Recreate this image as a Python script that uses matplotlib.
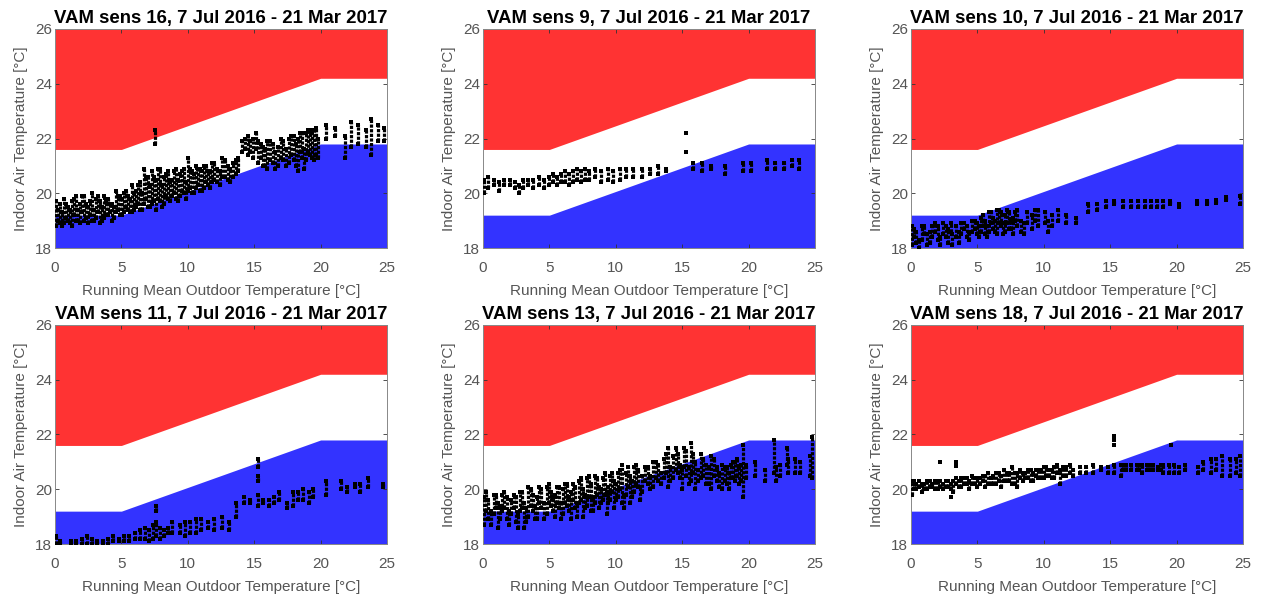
import matplotlib
matplotlib.use("Agg")
import matplotlib.pyplot as plt

plt.rcParams['font.family'] = ['Liberation Sans', 'DejaVu Sans']

# Comfort band (running-mean outdoor temperature vs indoor limits)
band_x = [0, 5, 20, 25]
band_upper = [21.6, 21.6, 24.2, 24.2]
band_lower = [19.2, 19.2, 21.8, 21.8]

period = "7 Jul 2016 - 21 Mar 2017"
sensors = [16, 9, 10, 11, 13, 18]

# Each sensor: daily running mean (x) with the span of hourly indoor readings (lo..hi)
s16_x = [0.1, 0.4, 0.7, 1.0, 1.3, 1.6, 1.9, 2.2, 2.5, 2.8, 3.1, 3.4, 3.7, 4.0, 4.3, 4.6, 4.9,
         5.2, 5.5, 5.8, 6.1, 6.4, 6.7, 7.0, 7.3, 7.55, 7.6, 7.9, 8.2, 8.5, 8.8, 9.1, 9.4, 9.7,
         10.0, 10.3, 10.6, 10.9, 11.2, 11.5, 11.8, 12.2, 12.6, 13.0, 13.4, 13.8, 14.1, 14.5,
         14.9, 15.3, 15.7, 16.0, 16.4, 16.8, 17.2, 17.6, 18.0, 18.3, 18.6, 18.9, 19.2, 19.5,
         19.8, 20.4, 21.1, 21.8, 22.3, 22.8, 23.4, 23.8, 24.8,
         0.25, 0.55, 0.85, 1.15, 1.45, 1.75, 2.05, 2.35, 2.65, 2.95, 3.25, 3.55, 3.85, 4.15,
         4.45, 4.75, 5.05, 5.35, 5.65, 5.95, 6.25, 6.55, 6.85, 7.15, 7.45, 7.75, 8.05, 8.35,
         8.65, 8.95, 9.25, 9.55, 9.85, 10.15, 10.45, 10.75, 11.05, 11.35, 11.65, 12.0, 12.4,
         12.8, 13.2, 13.6, 14.3, 14.7, 15.1, 15.5, 15.85, 16.2, 16.6, 17.0, 17.4, 17.8, 18.15,
         18.45, 18.75, 19.05, 19.35, 19.65, 24.3]
s16_lo = [18.8, 18.9, 18.9, 19.0, 18.8, 19.0, 18.9, 19.0, 18.9, 19.0, 19.1, 18.9, 19.1, 19.2, 19.0, 19.3, 19.2,
          19.3, 19.4, 19.3, 19.5, 19.4, 19.6, 19.5, 19.6, 21.8, 19.4, 19.7, 19.6, 19.8, 19.9, 19.8, 19.9, 20.0,
          20.1, 20.0, 20.2, 20.1, 20.2, 20.3, 20.4, 20.4, 20.6, 20.5, 20.6, 20.8, 21.5, 21.4,
          21.3, 21.1, 21.0, 20.9, 21.1, 21.0, 21.2, 21.1, 21.2, 20.8, 21.3, 21.2, 21.4, 21.2,
          21.3, 22.0, 22.1, 21.3, 21.7, 21.8, 21.7, 21.4, 21.9,
          19.0, 18.8, 19.1, 18.9, 19.2, 19.0, 19.3, 19.1, 19.2, 19.0, 19.3, 19.0, 19.2, 19.3,
          19.1, 19.4, 19.2, 19.5, 19.3, 19.4, 19.6, 19.4, 19.8, 19.5, 19.7, 19.8, 19.5, 19.9,
          19.7, 20.0, 19.7, 20.1, 19.8, 20.2, 20.0, 20.3, 20.1, 20.4, 20.2, 20.5, 20.3,
          20.6, 20.4, 20.7, 21.6, 21.5, 21.6, 21.3, 21.0, 21.2, 20.9, 21.3, 21.0, 21.4, 21.0,
          21.5, 20.9, 21.5, 21.3, 21.4, 21.9]
s16_hi = [19.7, 19.6, 19.8, 19.5, 19.7, 19.9, 19.6, 19.9, 19.5, 20.0, 19.8, 19.7, 19.9, 19.8, 19.6, 20.1, 19.9,
          20.0, 19.9, 20.3, 20.1, 20.4, 20.9, 20.6, 20.8, 22.3, 20.5, 20.9, 20.6, 20.8, 20.5, 20.9, 20.7, 20.9,
          21.3, 20.8, 21.0, 20.9, 21.0, 20.8, 21.1, 20.9, 21.3, 21.0, 21.1, 21.3, 21.9, 22.1,
          22.0, 21.9, 21.7, 21.9, 21.8, 21.7, 21.9, 22.0, 22.1, 22.0, 22.2, 22.2, 22.3, 22.3,
          22.0, 22.5, 22.4, 22.1, 22.6, 22.5, 22.3, 22.7, 22.4,
          19.4, 19.3, 19.6, 19.4, 19.8, 19.4, 19.9, 19.6, 19.7, 19.4, 19.9, 19.5, 19.7, 19.6,
          19.5, 19.9, 19.8, 20.1, 19.8, 20.0, 20.3, 20.0, 20.6, 20.3, 20.6, 20.9, 20.3, 20.7,
          20.4, 20.8, 20.5, 20.8, 20.4, 20.9, 20.7, 20.9, 20.8, 21.0, 20.8, 21.1, 20.8,
          21.2, 20.9, 21.2, 22.0, 21.9, 22.2, 21.8, 21.6, 21.9, 21.5, 22.0, 21.6, 22.1, 21.8,
          22.2, 21.6, 22.3, 22.2, 22.4, 22.5]
s16_px = []
s16_py = []

s9_x = [0.1, 0.4, 0.8, 1.2, 1.6, 2.0, 2.4, 2.7, 3.0, 3.4, 3.8, 4.2, 4.6, 5.0, 5.3, 5.6, 5.9, 6.2,
        6.5, 6.8, 7.1, 7.4, 7.7, 8.0, 8.4, 8.9, 9.4, 9.8, 10.3, 10.8, 11.3, 12.0, 12.6, 13.2,
        13.8, 15.8, 16.5, 17.2, 18.2, 19.6, 20.2, 21.4, 22.0, 22.7, 23.3, 23.8]
s9_lo = [20.0, 20.2, 20.3, 20.1, 20.3, 20.3, 20.2, 20.0, 20.2, 20.3, 20.2, 20.3, 20.2, 20.3, 20.4, 20.3, 20.4, 20.4,
         20.3, 20.4, 20.5, 20.4, 20.5, 20.5, 20.6, 20.4, 20.5, 20.4, 20.5, 20.6, 20.6, 20.6, 20.7, 20.7,
         20.8, 20.9, 20.8, 20.9, 20.7, 20.8, 20.8, 20.9, 20.9, 20.9, 21.0, 20.9]
s9_hi = [20.5, 20.6, 20.5, 20.4, 20.5, 20.5, 20.4, 20.3, 20.5, 20.5, 20.5, 20.6, 20.5, 20.6, 20.7, 20.6, 20.7, 20.8,
         20.7, 20.8, 20.9, 20.8, 20.9, 20.8, 20.9, 20.8, 20.9, 20.8, 20.9, 20.9, 20.9, 20.9, 20.9, 21.0,
         20.9, 21.1, 21.1, 21.0, 21.0, 21.1, 21.1, 21.2, 21.1, 21.1, 21.2, 21.2]
s9_px = [15.3, 15.3]
s9_py = [22.2, 21.5]

s10_x = [0.1, 0.4, 0.8, 1.2, 1.6, 2.0, 2.4, 2.8, 3.1, 3.4, 3.8, 4.2, 4.6, 5.0, 5.3, 5.6, 5.9, 6.2,
         6.5, 6.8, 7.1, 7.4, 7.7, 8.0, 8.3, 8.7, 9.1, 9.6, 10.1, 10.6, 11.1, 11.7, 12.4, 13.3,
         14.0, 14.7, 15.3, 16.0, 16.6, 17.1, 17.6, 18.1, 18.5, 19.0, 19.5, 20.2, 21.5, 22.3,
         23.0, 23.7, 24.8,
         0.25, 0.6, 1.0, 1.4, 1.8, 2.2, 2.6, 3.0, 3.6, 4.0, 4.4, 4.8, 5.15, 5.45, 5.75, 6.05,
         6.35, 6.65, 6.95, 7.25, 7.55, 7.85, 8.5, 9.3, 10.3]
s10_lo = [18.1, 18.2, 18.3, 18.1, 18.4, 18.3, 18.5, 18.2, 18.1, 18.4, 18.5, 18.4, 18.6, 18.5, 18.6, 18.5, 18.6, 18.7,
          18.5, 18.8, 18.6, 18.7, 18.5, 18.8, 18.6, 18.9, 18.7, 18.8, 18.9, 18.8, 19.0, 18.9, 18.9, 19.3,
          19.4, 19.5, 19.6, 19.5, 19.5, 19.5, 19.5, 19.5, 19.5, 19.5, 19.6, 19.5, 19.6, 19.6,
          19.65, 19.75, 19.6,
          18.4, 18.0, 18.5, 18.2, 18.6, 18.1, 18.4, 18.6, 18.2, 18.7, 18.3, 18.7, 18.4, 18.8, 18.4, 18.9,
          18.6, 18.9, 18.5, 18.9, 18.7, 19.0, 18.5, 19.0, 18.6]
s10_hi = [18.8, 18.6, 18.8, 18.5, 18.8, 18.8, 18.9, 18.7, 18.5, 18.8, 18.9, 18.8, 19.0, 18.9, 19.1, 19.0, 19.3, 19.1,
          19.4, 19.3, 19.2, 19.3, 19.1, 19.4, 19.0, 19.3, 19.2, 19.4, 19.3, 19.2, 19.4, 19.2, 19.1, 19.6,
          19.6, 19.7, 19.7, 19.7, 19.7, 19.7, 19.7, 19.7, 19.7, 19.7, 19.7, 19.6, 19.7, 19.7,
          19.75, 19.85, 19.9,
          18.7, 18.3, 18.8, 18.6, 18.9, 18.4, 18.8, 18.9, 18.6, 18.9, 18.6, 19.0, 18.8, 19.2, 18.8, 19.3,
          19.0, 19.4, 18.9, 19.4, 19.0, 19.3, 18.9, 19.4, 19.0]
s10_px = []
s10_py = []

s11_x = [0.1, 0.4, 1.2, 1.6, 2.0, 2.4, 2.8, 3.2, 3.6, 4.0, 4.4, 4.8, 5.2, 5.6, 6.0, 6.4, 6.8, 7.1,
         7.4, 7.6, 7.6, 7.9, 8.2, 8.5, 8.8, 9.4, 9.8, 10.2, 10.6, 11.0, 11.5, 12.0, 12.6, 13.1,
         13.6, 14.2, 14.7, 15.3, 15.3, 15.3, 15.7, 16.1, 16.5, 16.9, 17.5, 17.9, 18.3, 18.7,
         19.1, 19.4, 20.4, 21.5, 22.0, 22.6, 23.0, 23.6, 24.7]
s11_lo = [18.0, 18.0, 18.0, 18.0, 18.0, 18.0, 18.0, 18.0, 18.0, 18.0, 18.1, 18.1, 18.1, 18.1, 18.2, 18.2, 18.2, 18.1,
          18.2, 18.3, 19.2, 18.2, 18.3, 18.4, 18.4, 18.4, 18.3, 18.4, 18.4, 18.5, 18.6, 18.5, 18.6, 18.5,
          19.0, 19.5, 19.5, 19.4, 20.3, 20.8, 19.5, 19.4, 19.5, 19.6, 19.3, 19.4, 19.6, 19.6,
          19.5, 19.7, 19.8, 20.0, 19.9, 20.1, 19.9, 20.1, 20.1]
s11_hi = [18.3, 18.1, 18.1, 18.1, 18.2, 18.3, 18.2, 18.1, 18.1, 18.2, 18.3, 18.2, 18.3, 18.3, 18.4, 18.5, 18.6, 18.5,
          18.7, 18.8, 19.4, 18.6, 18.5, 18.6, 18.8, 18.7, 18.8, 18.8, 18.9, 18.9, 18.8, 18.9, 19.0, 18.8,
          19.5, 19.7, 19.6, 19.8, 20.5, 21.1, 19.6, 19.6, 19.7, 19.9, 19.5, 19.9, 19.9, 20.0,
          19.9, 20.0, 20.3, 20.3, 20.1, 20.2, 20.2, 20.4, 20.2]
s11_px = []
s11_py = []

s13_x = [0.1, 0.4, 0.8, 1.1, 1.4, 1.8, 2.1, 2.5, 2.8, 3.1, 3.4, 3.8, 4.1, 4.4, 4.8, 5.1, 5.4, 5.7,
         6.0, 6.3, 6.6, 6.9, 7.2, 7.5, 7.8, 8.1, 8.4, 8.7, 9.0, 9.3, 9.6, 9.9, 10.2, 10.5, 10.8,
         11.1, 11.4, 11.7, 12.0, 12.4, 12.8, 13.2, 13.6, 13.9, 14.3, 14.7, 15.0, 15.3, 15.7,
         16.0, 16.4, 16.8, 17.2, 17.6, 18.0, 18.4, 18.7, 19.0, 19.3, 19.6, 20.5, 21.2, 21.9,
         22.4, 22.9, 23.5, 23.9, 24.8,
         0.25, 0.6, 0.95, 1.25, 1.6, 1.95, 2.3, 2.65, 2.95, 3.25, 3.6, 3.95, 4.25, 4.6, 4.95,
         5.25, 5.55, 5.85, 6.15, 6.45, 6.75, 7.05, 7.35, 7.65, 7.95, 8.25, 8.55, 8.85, 9.15,
         9.45, 9.75, 10.05, 10.35, 10.65, 10.95, 11.25, 11.55, 11.85, 12.2, 12.6, 13.0, 13.4,
         13.75, 14.1, 14.5, 14.85, 15.15, 15.5, 15.85, 16.2, 16.6, 17.0, 17.4, 17.8, 18.2,
         18.55, 18.85, 19.15, 19.45, 19.8, 22.1, 23.0, 24.6]
s13_lo = [18.7, 18.9, 19.1, 18.6, 19.2, 18.9, 19.1, 18.8, 19.2, 18.6, 19.0, 19.2, 18.9, 19.3, 19.1, 19.4, 19.0, 19.3,
          19.1, 19.4, 18.9, 19.3, 19.5, 19.0, 19.4, 19.2, 19.5, 19.3, 19.6, 19.1, 19.6, 19.3, 19.7, 19.5, 19.8,
          19.5, 19.9, 20.1, 19.9, 20.2, 20.1, 20.3, 20.4, 20.1, 20.4, 20.6, 20.0, 20.5, 20.3,
          20.0, 20.4, 20.2, 20.0, 20.3, 20.0, 20.2, 20.4, 20.3, 20.2, 19.7, 20.5, 20.3, 20.6,
          20.5, 20.9, 20.6, 20.6, 20.4,
          19.2, 18.7, 19.3, 18.9, 19.3, 18.7, 19.3, 18.6, 19.3, 18.8, 19.4, 18.9, 19.5, 18.9, 19.5,
          19.2, 19.5, 18.9, 19.5, 19.2, 19.6, 19.0, 19.6, 19.3, 19.7, 19.2, 19.8, 19.5, 19.8,
          19.5, 19.9, 19.6, 20.0, 19.3, 20.1, 19.7, 20.2, 19.6, 20.3, 20.0, 20.4, 20.2,
          20.6, 20.3, 20.7, 20.4, 20.8, 20.2, 20.6, 20.3, 20.5, 20.2, 20.5, 20.1, 20.3,
          20.0, 20.4, 20.5, 20.3, 20.4, 20.3, 20.6, 20.5]
s13_hi = [19.7, 19.6, 19.8, 19.5, 19.8, 19.7, 19.6, 19.7, 19.9, 19.5, 20.1, 19.8, 19.7, 20.0, 20.1, 19.9, 19.8, 20.1,
          20.0, 20.2, 19.9, 20.1, 20.3, 20.0, 20.4, 20.2, 20.5, 20.1, 20.4, 19.9, 20.5, 20.3, 20.6, 20.9, 20.6,
          20.5, 20.8, 20.7, 20.5, 20.8, 21.0, 20.9, 21.1, 21.5, 21.2, 21.3, 20.7, 21.4, 21.7,
          21.0, 21.3, 20.9, 21.2, 20.8, 20.9, 20.8, 20.9, 21.0, 20.8, 21.6, 21.0, 20.7, 21.8,
          20.9, 21.5, 21.1, 21.0, 21.9,
          19.9, 19.2, 19.8, 19.4, 19.9, 19.2, 19.8, 19.1, 19.9, 19.3, 20.0, 19.4, 20.1, 19.5, 20.2,
          19.7, 20.1, 19.5, 20.2, 19.7, 20.2, 19.5, 20.4, 19.8, 20.5, 19.7, 20.4, 20.0, 20.6,
          20.1, 20.6, 20.2, 20.7, 19.8, 20.8, 20.3, 20.9, 20.1, 20.8, 20.5, 21.0, 20.6,
          21.3, 20.8, 21.5, 20.9, 21.5, 20.8, 21.3, 20.7, 21.1, 20.8, 21.1, 20.6, 20.8,
          20.6, 21.0, 21.1, 20.9, 20.9, 20.8, 21.1, 21.2]
s13_px = []
s13_py = []

s18_x = [0.1, 0.4, 0.8, 1.2, 1.6, 2.0, 2.4, 2.8, 3.2, 3.6, 4.0, 4.4, 4.8, 5.2, 5.6, 6.0, 6.4, 6.8,
         7.2, 7.6, 8.0, 8.4, 8.8, 9.2, 9.6, 10.0, 10.4, 10.8, 11.2, 11.7, 12.2, 12.7, 13.2, 13.7,
         14.3, 14.8, 15.3, 15.8, 16.2, 16.6, 17.0, 17.4, 17.8, 18.2, 18.6, 19.0, 19.4, 19.8,
         20.2, 20.6, 21.6, 22.0, 22.6, 23.0, 23.4, 24.0, 24.8,
         0.25, 0.6, 1.0, 1.4, 1.8, 2.2, 2.6, 3.0, 3.4, 3.8, 4.2, 4.6, 5.0, 5.4, 5.8,
         6.2, 6.6, 7.0, 7.4, 7.8, 8.2, 8.6, 9.0, 9.4, 9.8, 10.2, 10.6, 11.0, 11.45, 11.95,
         16.0, 17.2, 18.0, 18.8, 24.5]
s18_lo = [19.8, 20.0, 19.9, 20.0, 20.1, 20.0, 20.0, 20.1, 19.9, 20.1, 20.2, 20.0, 20.2, 20.2, 20.1, 20.2, 20.2, 20.1,
          20.3, 20.2, 20.1, 20.3, 20.4, 20.3, 20.4, 20.4, 20.5, 20.4, 20.2, 20.5, 20.5, 20.6, 20.6, 20.6,
          20.7, 20.6, 20.6, 20.5, 20.7, 20.7, 20.7, 20.6, 20.7, 20.7, 20.7, 20.6, 20.6, 20.6,
          20.6, 20.7, 20.6, 20.7, 20.6, 20.7, 20.5, 20.5, 20.5,
          20.0, 20.1, 20.0, 20.1, 20.0, 20.1, 20.1, 20.0, 20.2, 20.1, 20.2, 20.2, 20.1, 20.3, 20.2,
          20.2, 20.3, 20.3, 20.3, 20.2, 20.4, 20.4, 20.3, 20.5, 20.4, 20.5, 20.4, 20.6, 20.5, 20.6,
          20.7, 20.7, 20.7, 20.7, 20.6]
s18_hi = [20.3, 20.2, 20.2, 20.3, 20.2, 20.3, 20.2, 20.3, 20.3, 20.3, 20.4, 20.3, 20.4, 20.4, 20.5, 20.4, 20.6, 20.5,
          20.6, 20.8, 20.6, 20.6, 20.7, 20.6, 20.7, 20.8, 20.7, 20.8, 20.7, 20.8, 20.7, 20.8, 20.8, 20.9,
          20.8, 20.8, 20.9, 20.9, 20.9, 20.9, 20.9, 20.9, 20.9, 20.9, 20.8, 20.9, 20.9, 20.9,
          20.8, 20.9, 20.8, 21.0, 21.1, 21.1, 21.2, 21.1, 21.2,
          20.3, 20.3, 20.2, 20.3, 20.3, 20.3, 20.3, 20.2, 20.4, 20.4, 20.4, 20.5, 20.4, 20.5, 20.6,
          20.5, 20.6, 20.7, 20.6, 20.6, 20.7, 20.6, 20.7, 20.7, 20.7, 20.8, 20.7, 20.9, 20.8, 20.9,
          20.9, 20.9, 20.9, 20.9, 21.1]
s18_px = [2.2, 3.4, 3.4, 3.0, 15.3, 15.3, 15.3, 19.6]
s18_py = [21.0, 21.0, 20.85, 19.7, 21.95, 21.8, 21.6, 21.6]

series = [
    (s16_x, s16_lo, s16_hi, s16_px, s16_py),
    (s9_x, s9_lo, s9_hi, s9_px, s9_py),
    (s10_x, s10_lo, s10_hi, s10_px, s10_py),
    (s11_x, s11_lo, s11_hi, s11_px, s11_py),
    (s13_x, s13_lo, s13_hi, s13_px, s13_py),
    (s18_x, s18_lo, s18_hi, s18_px, s18_py),
]

W, H = 1263, 595
fig = plt.figure(figsize=(W / 100, H / 100), dpi=100)

lefts = [55, 483, 911]
tops = [29, 325]
ax_w, ax_h = 332, 219

red = '#ff3333'
blue = '#3333ff'
grey = '#555555'

for i, (sid, (xs, lo, hi, px, py)) in enumerate(zip(sensors, series)):
    r, c = divmod(i, 3)
    ax = fig.add_axes([lefts[c] / W, 1 - (tops[r] + ax_h) / H, ax_w / W, ax_h / H])
    ax.fill_between(band_x, band_upper, 26, color=red, lw=0, zorder=1)
    ax.fill_between(band_x, 18, band_lower, color=blue, lw=0, zorder=1)
    ax.vlines(xs, lo, hi, color='black', lw=2.3, linestyles=[(0, (1.0, 0.45))], zorder=3)
    ax.plot(xs, lo, 's', color='black', ms=2.2, mew=0, zorder=3)
    ax.plot(xs, hi, 's', color='black', ms=2.2, mew=0, zorder=3)
    if px:
        ax.plot(px, py, 's', color='black', ms=2.6, mew=0, zorder=3)
    ax.set_xlim(0, 25)
    ax.set_ylim(18, 26)
    ax.set_xticks([0, 5, 10, 15, 20, 25])
    ax.set_yticks([18, 20, 22, 24, 26])
    ax.tick_params(direction='in', top=True, right=True, length=3, width=0.6,
                   colors='#333333', labelsize=11, labelcolor=grey)
    ax.tick_params(axis='x', pad=9.5)
    ax.tick_params(axis='y', pad=2)
    for s in ax.spines.values():
        s.set_color('#888888')
        s.set_linewidth(0.7)
    ax.set_title(f"VAM sens {sid}, {period}", fontsize=13.4, fontweight='bold', pad=4.5)
    ax.set_xlabel("Running Mean Outdoor Temperature [°C]", fontsize=11, color=grey, labelpad=6.5)
    ax.set_ylabel("Indoor Air Temperature [°C]", fontsize=11, color=grey, labelpad=5)

fig.savefig("out.png", dpi=100)
